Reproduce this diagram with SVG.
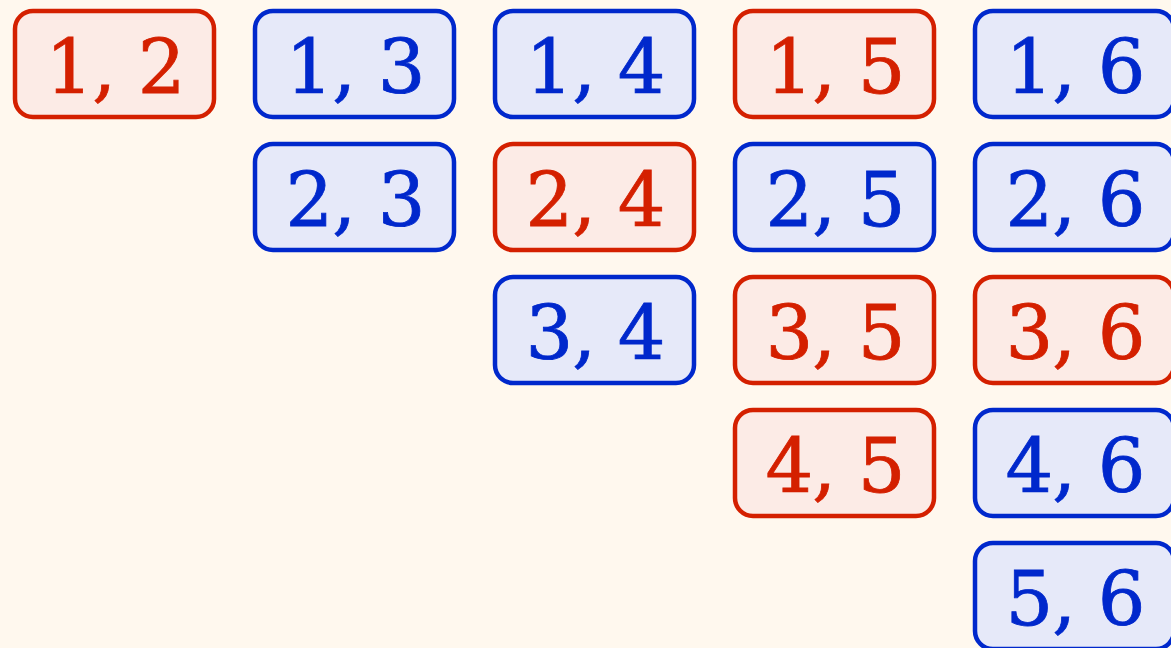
<svg xmlns="http://www.w3.org/2000/svg" width="1171" height="648" viewBox="0 0 1171 648">
<style>
.r rect{fill:#fcebe6;stroke:#d42000;stroke-width:4.5}
.b rect{fill:#e6e9f9;stroke:#0028cc;stroke-width:4.5}
text{font-family:"DejaVu Serif",serif;font-size:75px;text-anchor:middle;letter-spacing:-1px;stroke-width:0.8px}
.r text{fill:#d42000;stroke:#d42000}
.b text{fill:#0028cc;stroke:#0028cc}
</style>
<rect width="1171" height="648" fill="#fff8ee"/>
<g id="n12" class="r"><rect x="15" y="11" width="199" height="106" rx="18"/><text x="115" y="93">1, 2</text></g>
<g id="n13" class="b"><rect x="255" y="11" width="199" height="106" rx="18"/><text x="355" y="93">1, 3</text></g>
<g id="n14" class="b"><rect x="495" y="11" width="199" height="106" rx="18"/><text x="595" y="93">1, 4</text></g>
<g id="n15" class="r"><rect x="735" y="11" width="199" height="106" rx="18"/><text x="835" y="93">1, 5</text></g>
<g id="n16" class="b"><rect x="975" y="11" width="199" height="106" rx="18"/><text x="1075" y="93">1, 6</text></g>
<g id="n23" class="b"><rect x="255" y="144" width="199" height="106" rx="18"/><text x="355" y="226">2, 3</text></g>
<g id="n24" class="r"><rect x="495" y="144" width="199" height="106" rx="18"/><text x="595" y="226">2, 4</text></g>
<g id="n25" class="b"><rect x="735" y="144" width="199" height="106" rx="18"/><text x="835" y="226">2, 5</text></g>
<g id="n26" class="b"><rect x="975" y="144" width="199" height="106" rx="18"/><text x="1075" y="226">2, 6</text></g>
<g id="n34" class="b"><rect x="495" y="277" width="199" height="106" rx="18"/><text x="595" y="359">3, 4</text></g>
<g id="n35" class="r"><rect x="735" y="277" width="199" height="106" rx="18"/><text x="835" y="359">3, 5</text></g>
<g id="n36" class="r"><rect x="975" y="277" width="199" height="106" rx="18"/><text x="1075" y="359">3, 6</text></g>
<g id="n45" class="r"><rect x="735" y="410" width="199" height="106" rx="18"/><text x="835" y="492">4, 5</text></g>
<g id="n46" class="b"><rect x="975" y="410" width="199" height="106" rx="18"/><text x="1075" y="492">4, 6</text></g>
<g id="n56" class="b"><rect x="975" y="543" width="199" height="106" rx="18"/><text x="1075" y="625">5, 6</text></g>
<g id="connectors"></g>
</svg>
